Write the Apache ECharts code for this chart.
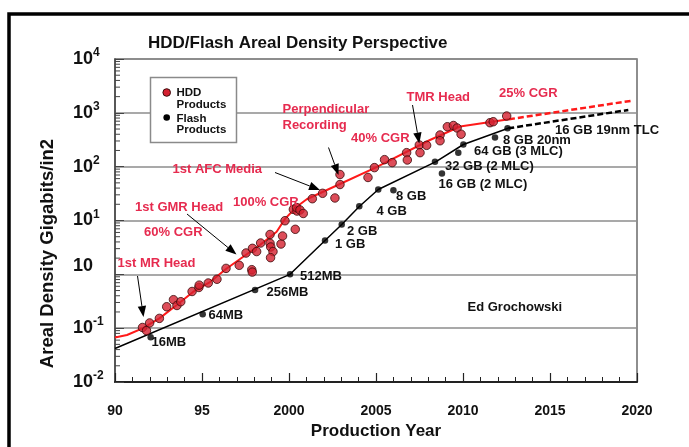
<!DOCTYPE html>
<html><head><meta charset="utf-8">
<script src="https://cdn.jsdelivr.net/npm/echarts@6/dist/echarts.min.js"></script>
<style>html,body{margin:0;padding:0;background:#fff}#c{width:689px;height:447px}</style>
</head><body><div id="c"></div>
<script>
// ---------------- data (year, Gbit/in2) ----------------
const hddPoints = [
  [1991.58,0.103],[1991.81,0.090],[1991.99,0.125],[1992.55,0.152],[1992.97,0.25],[1993.36,0.338],
  [1993.56,0.264],[1993.78,0.31],[1994.43,0.48],[1994.82,0.57],[1994.84,0.63],[1995.36,0.69],
  [1995.86,0.81],[1996.38,1.29],[1997.14,1.47],[1997.53,2.49],[1997.86,1.22],[1997.89,1.10],
  [1997.9,3.04],[1998.14,2.65],[1998.37,3.82],[1998.91,5.5],[1998.91,3.77],[1998.95,3.22],
  [1999.08,2.65],[1998.94,2.04],[1999.54,3.66],[1999.63,5.15],[1999.77,9.9],[2000.36,6.86],
  [2000.25,16.1],[2000.46,15.0],[2000.44,17.4],[2000.63,15.7],[2000.82,13.5],[2001.34,25.4],
  [2001.93,32],[2002.64,26.2],[2002.93,71.5],[2002.93,46.6],[2004.54,63],[2004.91,96],
  [2005.49,135],[2005.93,119],[2006.76,182],[2006.8,133],[2007.49,253],[2007.53,182],
  [2007.91,249],[2008.68,387],[2008.68,303],[2009.1,552],[2009.45,582],[2009.66,523],
  [2009.89,401],[2011.55,656],[2011.74,684],[2012.51,873]
];
const flashPoints = [
  [1992.05,0.0676],[1995.04,0.181],[1998.05,0.512],[2000.06,1.0],[2002.07,4.25],[2003.03,8.4],
  [2004.04,18.4],[2005.13,37.6],[2006.0,36.5],[2008.39,124],[2008.79,74.6],[2009.73,182],
  [2010.02,259],[2011.84,348],[2012.56,516]
];
const hddTrend = [
  [1990,0.067],[1990.69,0.0746],[1991.58,0.0993],[1992.55,0.152],[1993.55,0.269],[1994.5,0.475],
  [1995.46,0.72],[1996.38,1.256],[1997.37,2.12],[1998.33,3.5],[1999.29,6.19],[1999.77,10.7],
  [2000.44,18.0],[2001.02,24.8],[2002.93,47.6],[2004.94,95],[2008.1,313],[2009.83,557],[2012.64,759]
];
const hddProjection = [[2012.64,759],[2019.7,1680]];
const flashTrend = [
  [1990,0.042],[2000.06,1.0],[2002.07,4.25],[2003.03,8.4],[2004.04,18.2],[2005.13,37.6],
  [2008.45,124],[2010.02,258],[2012.6,516]
];
const flashProjection = [[2012.6,516],[2019.5,1130]];

const xTickValues = [1990,1995,2000,2005,2010,2015,2020];
const xTickLabels = ['90','95','2000','2005','2010','2015','2020'];
const yTickExponents = ['-2','-1','','1','2','3','4']; // labels 10^-2 ... 10^4 (1 is printed "10")

const hddLabels = ['Perpendicular','Recording','40% CGR','TMR Head','25% CGR','1st AFC Media','100% CGR','1st GMR Head','60% CGR','1st MR Head'];
const flashLabels = ['16MB','64MB','256MB','512MB','1 GB','2 GB','4 GB','8 GB','32 GB (2 MLC)','16 GB (2 MLC)','64 GB (3 MLC)','8 GB 20nm','16 GB 19nm TLC'];

// ---------------- layout ----------------
const FONT = '"Liberation Sans", Arial, sans-serif';
const hddLabelPos = [[282.5,109],[282.5,125],[351,138.5],[406.5,97],[499,93.5],[172.5,169],[233,202.5],[135,207],[144,232.5],[117.5,263.5]];
const flashLabelPos = [[151.5,342.5],[208.5,315.5],[266.5,292.5],[300,276.5],[335,244],[347,231],[376.5,211],[396,196],[445,166],[438.5,184],[474,151],[503,140],[555,130]];
const arrows = [[137.5,276,143.5,317],[187,214,236.5,254.5],[275,172.5,320,190],[328.5,147.5,338.5,175],[412.5,105,419.3,143.5]];

function txt(t,x,y,color,size){
  return {type:'text', x:x, y:y, z:50, style:{text:t, fill:color, font:'bold '+size+'px '+FONT, align:'left', verticalAlign:'middle'}};
}
function arrow(x1,y1,x2,y2){
  const L=11, W=4.2, dx=x2-x1, dy=y2-y1, d=Math.hypot(dx,dy), ux=dx/d, uy=dy/d;
  const bx=x2-ux*L, by=y2-uy*L;
  return [
    {type:'line', z:50, shape:{x1:x1,y1:y1,x2:bx,y2:by}, style:{stroke:'#000', lineWidth:1}},
    {type:'polygon', z:50, shape:{points:[[x2,y2],[bx-uy*W,by+ux*W],[bx+uy*W,by-ux*W]]}, style:{fill:'#000'}}
  ];
}
const graphics = [];
graphics.push({type:'rect', z:60, shape:{x:9,y:14,width:700,height:460}, style:{fill:'none', stroke:'#000', lineWidth:3.5}});
// legend box
graphics.push({type:'rect', z:40, shape:{x:150.5,y:77.5,width:86,height:65}, style:{fill:'#fff', stroke:'#8a8a8a', lineWidth:1.5}});
graphics.push({type:'circle', z:50, shape:{cx:166.7,cy:92.5,r:3.8}, style:{fill:'#d42030', stroke:'#3a0a0a', lineWidth:1}});
graphics.push({type:'circle', z:50, shape:{cx:166.7,cy:117.5,r:3.3}, style:{fill:'#000'}});
graphics.push(txt('HDD',176.5,93,'#111',11.5));
graphics.push(txt('Products',176.5,104.5,'#111',11.5));
graphics.push(txt('Flash',176.5,118.5,'#111',11.5));
graphics.push(txt('Products',176.5,130,'#111',11.5));
hddLabels.forEach((t,i)=>graphics.push(txt(t,hddLabelPos[i][0],hddLabelPos[i][1],'#e62b4f',13)));
flashLabels.forEach((t,i)=>graphics.push(txt(t,flashLabelPos[i][0],flashLabelPos[i][1],'#111',13)));
graphics.push(txt('Ed Grochowski',467.5,307.5,'#111',13));
arrows.forEach(a=>arrow(a[0],a[1],a[2],a[3]).forEach(g=>graphics.push(g)));

// minor log ticks on the left axis
const minorTickValues = [];
for (let e=-2; e<4; e++) for (let k=2; k<10; k++) minorTickValues.push([1990, k*Math.pow(10,e)]);

const chart = echarts.init(document.getElementById('c'), null, {renderer:'canvas'});
chart.setOption({
  animation:false,
  backgroundColor:'#fff',
  title:{text:'HDD/Flash Areal Density Perspective', left:148, top:35, padding:0,
    textStyle:{fontFamily:FONT, fontSize:17, fontWeight:'bold', color:'#111'}},
  grid:{left:115, right:52, top:59, bottom:65, show:true, borderColor:'#6a6a6a', borderWidth:1.5},
  xAxis:{type:'value', min:1990, max:2020, interval:5,
    axisLine:{lineStyle:{color:'#222', width:2}},
    axisTick:{show:true, inside:true, length:9, lineStyle:{color:'#222', width:1.2}},
    minorTick:{show:true, splitNumber:5, length:5, lineStyle:{color:'#222', width:1}},
    splitLine:{show:false},
    axisLabel:{margin:22, color:'#111', fontFamily:FONT, fontWeight:'bold', fontSize:14,
      formatter:v=>{const i=xTickValues.indexOf(v); return i>=0?xTickLabels[i]:'';}},
    name:'Production Year', nameLocation:'middle', nameGap:41,
    nameTextStyle:{fontFamily:FONT, fontWeight:'bold', fontSize:17, color:'#111'}
  },
  yAxis:{type:'log', logBase:10, min:0.01, max:10000,
    axisLine:{show:true, lineStyle:{color:'#444', width:1.5}},
    axisTick:{show:true, inside:true, length:9, lineStyle:{color:'#444'}},
    splitLine:{show:true, lineStyle:{color:'#8c8c8c', width:1.5}},
    axisLabel:{margin:42, align:'left', color:'#111',
      formatter:v=>{
        const i=Math.round(Math.log10(v))+2; const e=yTickExponents[i];
        return e===''?'{z|10}':'{b|10}{s|'+e+'}';
      },
      rich:{
        b:{fontFamily:FONT, fontWeight:'bold', fontSize:18, color:'#111'},
        z:{fontFamily:FONT, fontWeight:'bold', fontSize:18, color:'#111', padding:[0,0,16,0]},
        s:{fontFamily:FONT, fontWeight:'bold', fontSize:12, color:'#111', padding:[0,0,12,0]}
      }},
    name:'Areal Density Gigabits/in2', nameLocation:'middle', nameGap:58,
    nameTextStyle:{fontFamily:FONT, fontWeight:'bold', fontSize:18.5, color:'#111', padding:[0,66,0,0]}
  },
  series:[
    {type:'line', name:'Flash trend', data:flashTrend, symbol:'none', z:2, lineStyle:{color:'#000', width:1.5}},
    {type:'line', name:'Flash projection', data:flashProjection, symbol:'none', z:2, lineStyle:{color:'#000', width:2.5, type:[6,3]}},
    {type:'line', name:'HDD trend', data:hddTrend, symbol:'none', z:3, lineStyle:{color:'#ff1a1a', width:2}},
    {type:'line', name:'HDD projection', data:hddProjection, symbol:'none', z:3, lineStyle:{color:'#ff1a1a', width:2.5, type:[6,3]}},
    {type:'scatter', name:'Flash Products', data:flashPoints, symbol:'circle', symbolSize:6.5, z:4, itemStyle:{color:'#000'}},
    {type:'scatter', name:'HDD Products', data:hddPoints, symbol:'circle', symbolSize:8.5, z:5,
      itemStyle:{color:'#d42030', borderColor:'#3a0a0a', borderWidth:1}},
    {type:'custom', name:'minor ticks', data:minorTickValues, silent:true, z:1,
      renderItem:(params, api)=>{
        const p = api.coord([api.value(0), api.value(1)]);
        return {type:'line', shape:{x1:p[0], y1:p[1], x2:p[0]+5, y2:p[1]}, style:{stroke:'#444', lineWidth:1}};
      }}
  ],
  graphic:graphics
});
</script></body></html>
